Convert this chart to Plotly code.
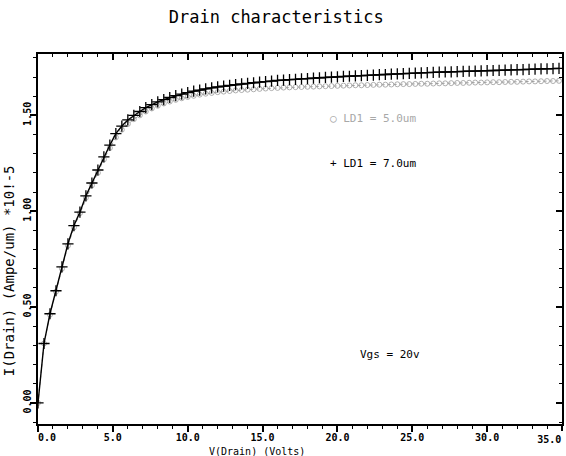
import plotly.graph_objects as go

# ---- data ----
v_drain = [0.0, 0.4, 0.8, 1.2, 1.6, 2.0, 2.4, 2.8, 3.2, 3.6, 4.0, 4.4, 4.8, 5.2, 5.6,
           6.0, 6.4, 6.8, 7.2, 7.6, 8.0, 8.4, 8.8, 9.2, 9.6, 10.0, 10.4, 10.8, 11.2,
           11.6, 12.0, 12.4, 12.8, 13.2, 13.6, 14.0, 14.4, 14.8, 15.2, 15.6, 16.0,
           16.4, 16.8, 17.2, 17.6, 18.0, 18.4, 18.8, 19.2, 19.6, 20.0, 20.4, 20.8,
           21.2, 21.6, 22.0, 22.4, 22.8, 23.2, 23.6, 24.0, 24.4, 24.8, 25.2, 25.6,
           26.0, 26.4, 26.8, 27.2, 27.6, 28.0, 28.4, 28.8, 29.2, 29.6, 30.0, 30.4,
           30.8, 31.2, 31.6, 32.0, 32.4, 32.8, 33.2, 33.6, 34.0, 34.4, 34.8]

i_ld1_7um = [0.00, 0.31, 0.465, 0.585, 0.71, 0.83, 0.925, 0.995, 1.08, 1.147, 1.215, 1.283,
             1.345, 1.405, 1.444, 1.476, 1.50, 1.52, 1.54, 1.556, 1.57, 1.582, 1.593,
             1.603, 1.611, 1.619, 1.626, 1.632, 1.638, 1.643, 1.648, 1.652, 1.656,
             1.66, 1.664, 1.667, 1.67, 1.673, 1.676, 1.679, 1.682, 1.684, 1.686,
             1.688, 1.69, 1.692, 1.694, 1.696, 1.698, 1.699, 1.701, 1.703, 1.704,
             1.706, 1.707, 1.709, 1.71, 1.712, 1.713, 1.715, 1.716, 1.718, 1.719,
             1.72, 1.722, 1.723, 1.724, 1.725, 1.726, 1.727, 1.728, 1.729, 1.73,
             1.731, 1.732, 1.733, 1.734, 1.735, 1.736, 1.737, 1.738, 1.739, 1.74,
             1.741, 1.742, 1.743, 1.744, 1.745]

i_ld1_5um = [0.00, 0.31, 0.46, 0.58, 0.70, 0.82, 0.915, 0.99, 1.07, 1.135, 1.20, 1.27,
             1.33, 1.385, 1.425, 1.455, 1.48, 1.50, 1.52, 1.536, 1.55, 1.562, 1.572,
             1.581, 1.589, 1.596, 1.602, 1.608, 1.613, 1.617, 1.621, 1.624, 1.627,
             1.63, 1.632, 1.634, 1.636, 1.638, 1.64, 1.642, 1.643, 1.645, 1.646,
             1.647, 1.648, 1.649, 1.65, 1.651, 1.652, 1.653, 1.654, 1.655, 1.656,
             1.657, 1.657, 1.658, 1.659, 1.66, 1.66, 1.661, 1.662, 1.663, 1.663,
             1.664, 1.665, 1.665, 1.666, 1.667, 1.667, 1.668, 1.669, 1.669, 1.67,
             1.671, 1.671, 1.672, 1.673, 1.673, 1.674, 1.675, 1.675, 1.676, 1.677,
             1.677, 1.678, 1.679, 1.679, 1.68]

x_tickvals = [0, 5, 10, 15, 20, 25, 30, 35]
x_ticktext = ["\u00a0\u00a0\u00a00.0", "5.0", "10.0", "15.0", "20.0", "25.0", "30.0", "35.0"]
y_tickvals = [0, 0.5, 1.0, 1.5]
y_ticktext = ["0.00", "0.50", "1.00", "1.50"]

X_RANGE = [0, 35]
Y_RANGE = [-0.11, 1.82]
MONO = "DejaVu Sans Mono, Liberation Mono, monospace"

fig = go.Figure()
fig.add_trace(go.Scatter(
    x=v_drain, y=i_ld1_5um, mode="lines+markers", name="LD1 = 5.0um",
    line=dict(color="#a0a0a0", width=1, dash="dot"),
    marker=dict(symbol="circle-open", size=5, color="#9a9a9a", line=dict(width=0.8)),
))
fig.add_trace(go.Scatter(
    x=v_drain, y=i_ld1_7um, mode="lines+markers", name="LD1 = 7.0um",
    line=dict(color="black", width=1.4),
    marker=dict(symbol="cross-thin-open", size=8, color="black", line=dict(width=1.3, color="black")),
))
# invisible traces to carry the mirrored (top/right) axes and the end-label axis
fig.add_trace(go.Scatter(x=X_RANGE, y=Y_RANGE, xaxis="x2", yaxis="y2", mode="markers",
                         marker=dict(opacity=0), showlegend=False, hoverinfo="skip"))
fig.add_trace(go.Scatter(x=X_RANGE, y=Y_RANGE, xaxis="x3", yaxis="y", mode="markers",
                         marker=dict(opacity=0), showlegend=False, hoverinfo="skip"))

tickfont = dict(family=MONO, size=10, color="black", weight="bold")
fig.update_layout(
    width=566, height=456,
    margin=dict(l=38, r=4, t=54, b=32, autoexpand=False),
    paper_bgcolor="white", plot_bgcolor="white",
    showlegend=False,
    title=dict(text="Drain characteristics", x=0.488, xanchor="center", y=0.963, yanchor="middle",
               font=dict(family=MONO, size=17, color="black")),
    xaxis=dict(range=X_RANGE, tickvals=x_tickvals[:-1], ticktext=x_ticktext[:-1], ticks="outside",
               ticklen=6, tickwidth=1.5, tickcolor="black", showline=True, linecolor="black",
               linewidth=2, showgrid=False, zeroline=False, tickfont=tickfont,
               ticklabelstandoff=-3, automargin=False,
               minor=dict(ticks="outside", dtick=1, ticklen=3, tickcolor="black", tickwidth=1)),
    # last x label, right-aligned at its tick so it stays inside the page
    xaxis3=dict(range=X_RANGE, overlaying="x", side="bottom", tickvals=x_tickvals[-1:],
                ticktext=x_ticktext[-1:], ticks="outside", ticklen=6, tickwidth=1.5,
                tickcolor="black", showline=False, showgrid=False, zeroline=False,
                tickfont=tickfont, ticklabelposition="outside left", ticklabelstandoff=6,
                automargin=False),
    xaxis2=dict(range=X_RANGE, overlaying="x", side="top", tickvals=x_tickvals, ticks="inside",
                ticklen=6, tickwidth=1.5, tickcolor="black", showline=True, linecolor="black",
                linewidth=2, showgrid=False, zeroline=False, showticklabels=False,
                minor=dict(ticks="inside", dtick=1, ticklen=3, tickcolor="black", tickwidth=1)),
    yaxis=dict(range=Y_RANGE, tickvals=y_tickvals, ticktext=y_ticktext, ticks="outside",
               ticklen=6, tickwidth=1.5, tickcolor="black", showline=True, linecolor="black",
               linewidth=2, showgrid=False, zeroline=False, tickfont=tickfont, tickangle=-90,
               ticklabelstandoff=-5, automargin=False,
               minor=dict(ticks="outside", dtick=0.1, ticklen=3, tickcolor="black", tickwidth=1)),
    yaxis2=dict(range=Y_RANGE, overlaying="y", side="right", tickvals=y_tickvals, ticks="inside",
                ticklen=6, tickwidth=1.5, tickcolor="black", showline=True, linecolor="black",
                linewidth=2, showgrid=False, zeroline=False, showticklabels=False,
                minor=dict(ticks="inside", dtick=0.1, ticklen=3, tickcolor="black", tickwidth=1)),
    annotations=[
        dict(text="V(Drain) (Volts)", xref="paper", yref="paper", x=0.418, y=-0.054,
             xanchor="center", yanchor="top", showarrow=False,
             font=dict(family=MONO, size=10, color="black")),
        dict(text="I(Drain) (Ampe/um) *10!-5", xref="paper", yref="paper", x=-0.0565, y=0.414,
             xanchor="center", yanchor="middle", textangle=-90, showarrow=False,
             font=dict(family=MONO, size=14, color="black")),
        dict(text="\u25cb LD1 = 5.0um", xref="x", yref="y", x=19.4, y=1.485, xanchor="left",
             yanchor="middle", showarrow=False, font=dict(family=MONO, size=11, color="#a8a8a8")),
        dict(text="+ LD1 = 7.0um", xref="x", yref="y", x=19.4, y=1.25, xanchor="left",
             yanchor="middle", showarrow=False, font=dict(family=MONO, size=11, color="black")),
        dict(text="Vgs = 20v", xref="x", yref="y", x=21.4, y=0.25, xanchor="left",
             yanchor="middle", showarrow=False, font=dict(family=MONO, size=11, color="black")),
    ],
)

fig.write_html("out.html", config={"displayModeBar": False},
               post_script="document.body.style.margin='0';")
